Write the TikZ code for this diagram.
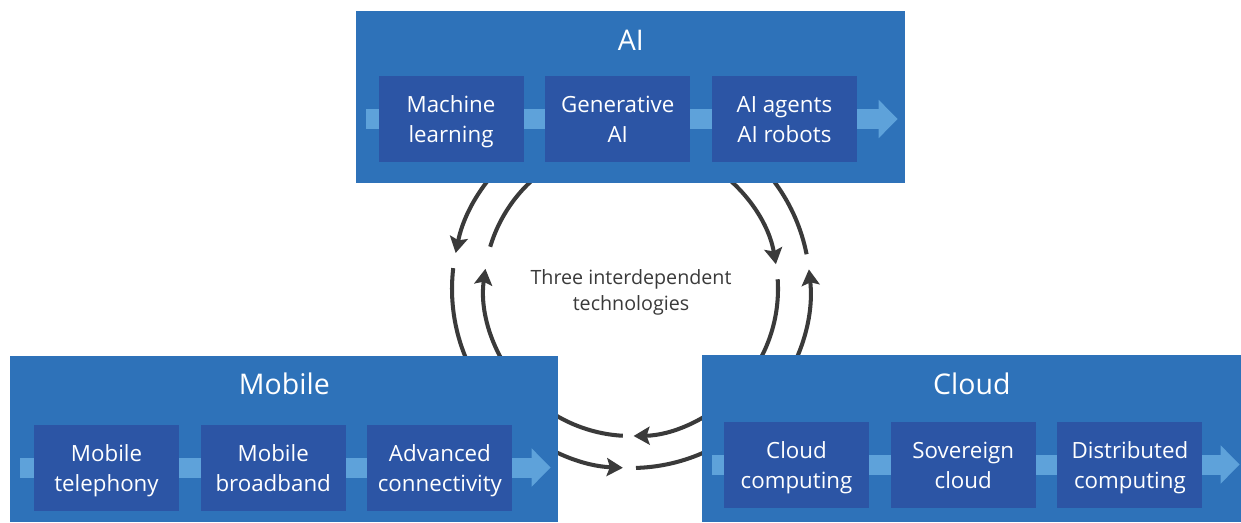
\documentclass[tikz,border=0pt]{standalone}
\usepackage{fontspec}
\setmainfont{Open Sans}
\usetikzlibrary{arrows.meta,positioning}
\usepackage{xcolor}
\definecolor{panelblue}{HTML}{2E72B9}
\definecolor{stepblue}{HTML}{2C55A5}
\definecolor{bandblue}{HTML}{5EA2DA}
\definecolor{ringgray}{HTML}{3A3A3A}

\begin{document}
\begin{tikzpicture}[
  panel/.style={fill=panelblue, inner sep=0pt, anchor=north west},
  paneltitle/.style={text=white, font=\fontsize{16.2}{19}\selectfont},
  stepbox/.style={fill=stepblue, text=white, inner sep=0pt, align=center,
                  minimum width=2.9cm, minimum height=1.72cm,
                  font=\fontsize{12.7}{17}\selectfont,
                  execute at begin node=\rule{0pt}{32pt}, execute at end node=\strut},
  band/.style={line width=0.4cm, bandblue, -{Triangle[length=0.38cm, width=0.74cm]}},
  ring/.style={ringgray, line width=2.3pt},
  ringarrow/.style={ring, -{Stealth[length=0.32cm, width=0.36cm, inset=0.06cm]}},
  hubtext/.style={text=ringgray, align=center, font=\fontsize{11.2}{14.7}\selectfont},
]
  \useasboundingbox (0,0) rectangle (24.82,10.44);
  \def\rin{2.94}
  \def\rout{3.58}

  % --- Ring of arrows (behind the panels) ---
  \coordinate (hub) at (12.62,4.66);

  % left: AI -> Mobile (outer), Mobile -> AI (inner)
  \draw[ringarrow] ([shift={(120:\rout)}]hub) arc[start angle=120, end angle=168.4, radius=\rout];
  \draw[ring] ([shift={(173.3:\rout)}]hub) arc[start angle=173.3, end angle=225, radius=\rout];
  \draw[ringarrow] ([shift={(225:\rin)}]hub) arc[start angle=225, end angle=172.1, radius=\rin];
  \draw[ring] ([shift={(163.3:\rin)}]hub) arc[start angle=163.3, end angle=120, radius=\rin];

  % right: AI -> Cloud (inner), Cloud -> AI (outer)
  \draw[ringarrow] ([shift={(60:\rin)}]hub) arc[start angle=60, end angle=9.7, radius=\rin];
  \draw[ring] ([shift={(3.8:\rin)}]hub) arc[start angle=3.8, end angle=-45, radius=\rin];
  \draw[ringarrow] ([shift={(-45:\rout)}]hub) arc[start angle=-45, end angle=6.3, radius=\rout];
  \draw[ring] ([shift={(11.2:\rout)}]hub) arc[start angle=11.2, end angle=60, radius=\rout];

  % bottom: Cloud -> Mobile (inner), Mobile -> Cloud (outer)
  \draw[ringarrow] ([shift={(315:\rin)}]hub) arc[start angle=315, end angle=271, radius=\rin];
  \draw[ring] ([shift={(266.8:\rin)}]hub) arc[start angle=266.8, end angle=225, radius=\rin];
  \draw[ringarrow] ([shift={(225:\rout)}]hub) arc[start angle=225, end angle=267.4, radius=\rout];
  \draw[ring] ([shift={(271.6:\rout)}]hub) arc[start angle=271.6, end angle=315, radius=\rout];

  \node[hubtext] (hubtext) at ([yshift=-0.07cm]hub) {Three interdependent\\technologies};

  % --- AI (top) ---
  \node[panel, minimum width=10.98cm, minimum height=3.44cm] (ai) at (7.12,10.22) {};
  \node[paneltitle] at ([yshift=-0.58cm]ai.north) {AI};
  \coordinate (aimid) at (9.02,8.06);
  \draw[band] ([xshift=0.2cm]aimid -| ai.west) -- ([xshift=-0.16cm]aimid -| ai.east);
  \node[stepbox] (ml) at (aimid) {Machine\\learning};
  \node[stepbox, right=0.42cm of ml] (gen) {Generative\\AI};
  \node[stepbox, right=0.42cm of gen] (agents) {AI agents\\AI robots};

  % --- Mobile (bottom left) ---
  \node[panel, minimum width=10.96cm, minimum height=3.32cm] (mobile) at (0.20,3.32) {};
  \node[paneltitle] at ([yshift=-0.56cm]mobile.north) {Mobile};
  \coordinate (mobmid) at (2.13,1.09);
  \draw[band] ([xshift=0.2cm]mobmid -| mobile.west) -- ([xshift=-0.16cm]mobmid -| mobile.east);
  \node[stepbox] (tel) at (mobmid) {Mobile\\telephony};
  \node[stepbox, right=0.42cm of tel] (mbb) {Mobile\\broadband};
  \node[stepbox, right=0.42cm of mbb] (conn) {Advanced\\connectivity};

  % --- Cloud (bottom right) ---
  \node[panel, minimum width=10.78cm, minimum height=3.34cm] (cloud) at (14.04,3.34) {};
  \node[paneltitle] at ([yshift=-0.58cm]cloud.north) {Cloud};
  \coordinate (cldmid) at (15.93,1.15);
  \draw[band] ([xshift=0.2cm]cldmid -| cloud.west) -- ([xshift=-0.04cm]cldmid -| cloud.east);
  \node[stepbox] (cc) at (cldmid) {Cloud\\computing};
  \node[stepbox, right=0.42cm of cc] (sov) {Sovereign\\cloud};
  \node[stepbox, right=0.42cm of sov] (dist) {Distributed\\computing};
\end{tikzpicture}
\end{document}
